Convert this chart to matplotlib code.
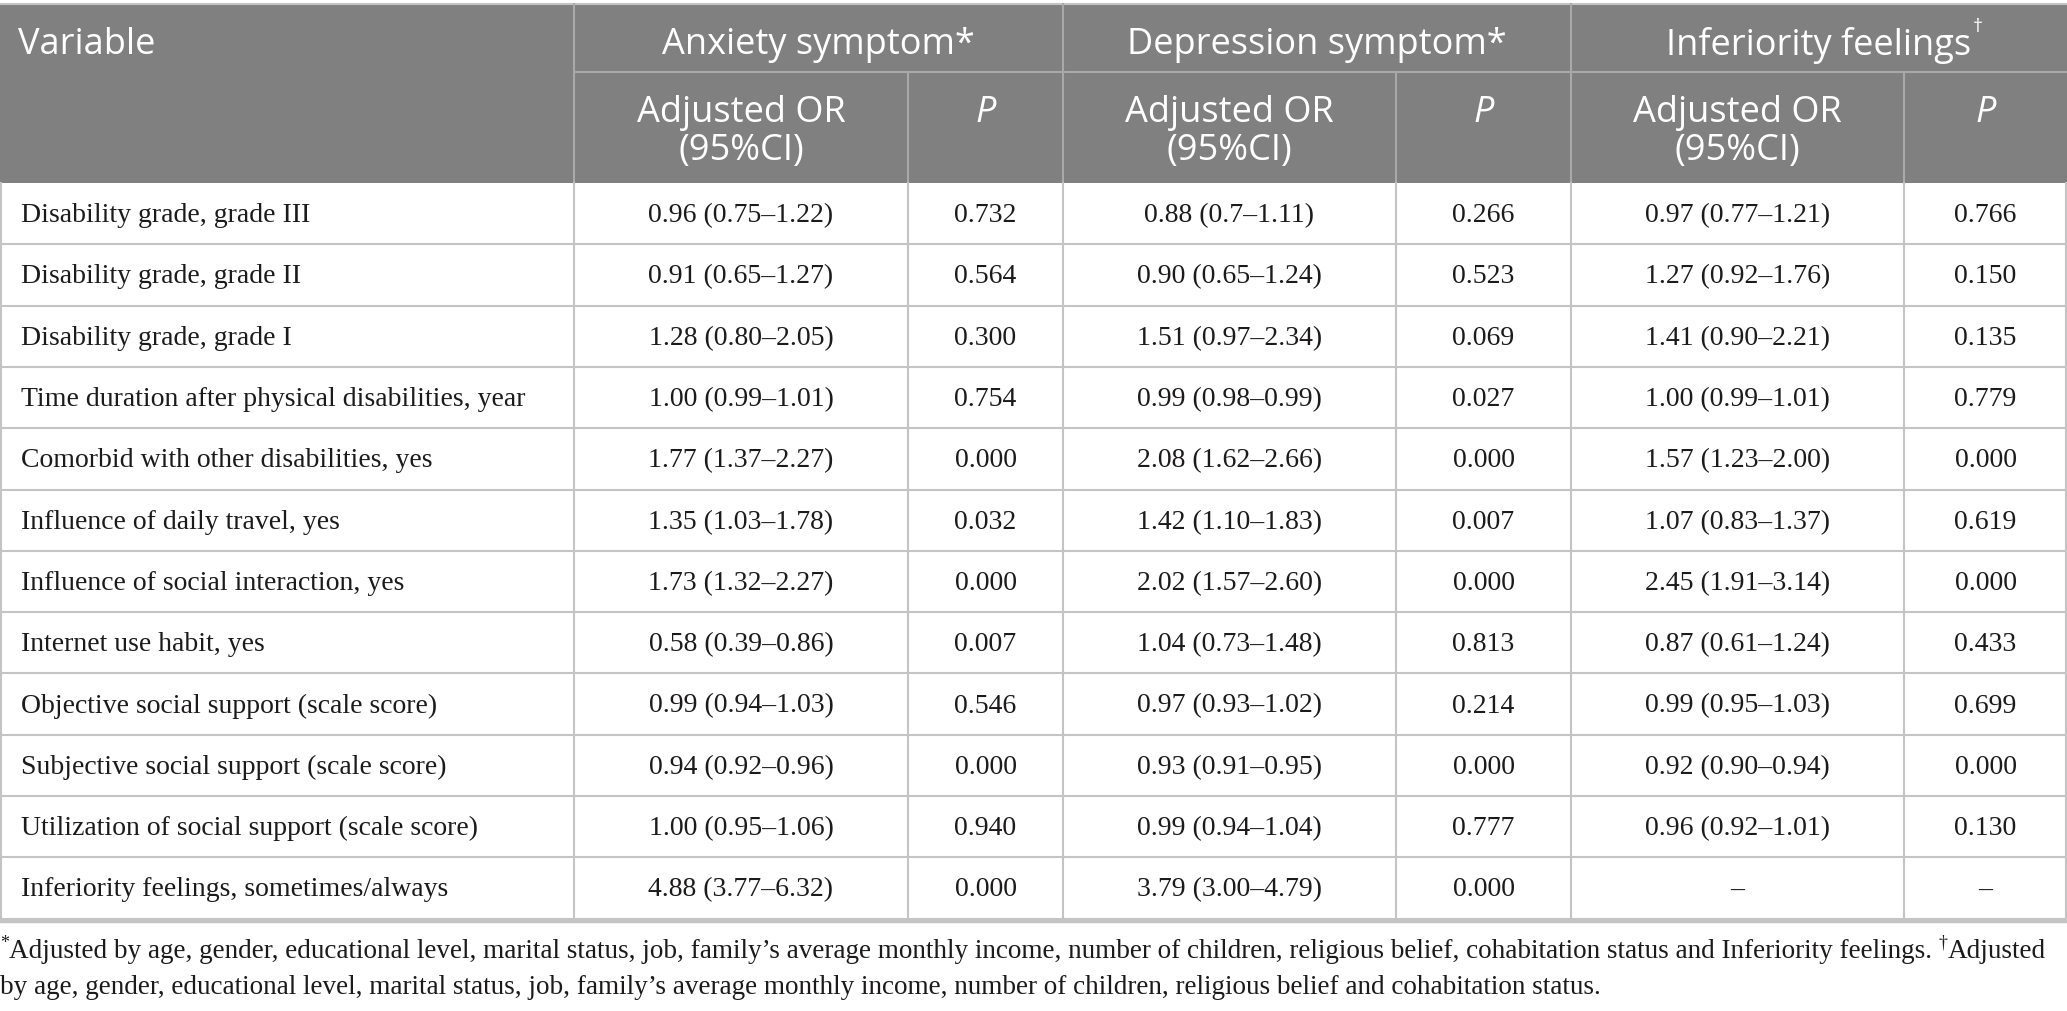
"""
Table: adjusted odds ratios for anxiety, depression and inferiority feelings.
"""

import matplotlib
matplotlib.use("Agg")
import matplotlib.pyplot as plt
from matplotlib.patches import Rectangle

# Table contents
variables = [
    "Disability grade, grade III",
    "Disability grade, grade II",
    "Disability grade, grade I",
    "Time duration after physical disabilities, year",
    "Comorbid with other disabilities, yes",
    "Influence of daily travel, yes",
    "Influence of social interaction, yes",
    "Internet use habit, yes",
    "Objective social support (scale score)",
    "Subjective social support (scale score)",
    "Utilization of social support (scale score)",
    "Inferiority feelings, sometimes/always",
]
anxiety_or = ["0.96 (0.75–1.22)", "0.91 (0.65–1.27)", "1.28 (0.80–2.05)", "1.00 (0.99–1.01)",
              "1.77 (1.37–2.27)", "1.35 (1.03–1.78)", "1.73 (1.32–2.27)", "0.58 (0.39–0.86)",
              "0.99 (0.94–1.03)", "0.94 (0.92–0.96)", "1.00 (0.95–1.06)", "4.88 (3.77–6.32)"]
anxiety_p = ["0.732", "0.564", "0.300", "0.754", "0.000", "0.032", "0.000", "0.007",
             "0.546", "0.000", "0.940", "0.000"]
depression_or = ["0.88 (0.7–1.11)", "0.90 (0.65–1.24)", "1.51 (0.97–2.34)", "0.99 (0.98–0.99)",
                 "2.08 (1.62–2.66)", "1.42 (1.10–1.83)", "2.02 (1.57–2.60)", "1.04 (0.73–1.48)",
                 "0.97 (0.93–1.02)", "0.93 (0.91–0.95)", "0.99 (0.94–1.04)", "3.79 (3.00–4.79)"]
depression_p = ["0.266", "0.523", "0.069", "0.027", "0.000", "0.007", "0.000", "0.813",
                "0.214", "0.000", "0.777", "0.000"]
inferiority_or = ["0.97 (0.77–1.21)", "1.27 (0.92–1.76)", "1.41 (0.90–2.21)", "1.00 (0.99–1.01)",
                  "1.57 (1.23–2.00)", "1.07 (0.83–1.37)", "2.45 (1.91–3.14)", "0.87 (0.61–1.24)",
                  "0.99 (0.95–1.03)", "0.92 (0.90–0.94)", "0.96 (0.92–1.01)", "–"]
inferiority_p = ["0.766", "0.150", "0.135", "0.779", "0.000", "0.619", "0.000", "0.433",
                 "0.699", "0.000", "0.130", "–"]

group_titles = ["Anxiety symptom*", "Depression symptom*", "Inferiority feelings"]
footnote_1 = ("Adjusted by age, gender, educational level, marital status, job, family\u2019s average monthly "
              "income, number of children, religious belief, cohabitation status and Inferiority feelings. ")
footnote_1b = "Adjusted"
footnote_2 = ("by age, gender, educational level, marital status, job, family\u2019s average monthly income, "
              "number of children, religious belief and cohabitation status.")

# Layout in pixels
W, H = 2067, 1011
col_x = [0, 574, 908, 1063, 1396, 1571, 1904, 2067]
head_top, head_mid, head_bot = 4, 72, 183
row_h = 61.3

header_color = "#7f807f"
head_line = "#a8a9a8"
grid_color = "#c4c4c4"
text_color = "#1c1a1a"
sans = "Open Sans"
serif = "Liberation Serif"
body_size = 20
foot_size = 19.5

fig = plt.figure(figsize=(W / 100, H / 100), dpi=100)
ax = fig.add_axes([0, 0, 1, 1])
ax.set_xlim(0, W)
ax.set_ylim(H, 0)
ax.axis("off")

# Header block
ax.add_patch(Rectangle((0, head_top), W, head_bot - head_top, facecolor=header_color, edgecolor="none"))
ax.plot([0, W], [head_top, head_top], color=grid_color, lw=1.5)
ax.plot([col_x[1], W], [head_mid, head_mid], color=head_line, lw=1.5)
for x in col_x[1:-1]:
    y0 = head_top if x in (col_x[1], col_x[3], col_x[5]) else head_mid
    ax.plot([x, x], [y0, head_bot], color=head_line, lw=1.5)

ax.text(18, 45, "Variable", color="white", fontsize=26, family=sans, va="center", ha="left")
for i, title in enumerate(group_titles):
    cx = (col_x[1 + 2 * i] + col_x[3 + 2 * i]) / 2
    t = ax.text(cx, 45, title, color="white", fontsize=26, family=sans, va="center", ha="center")
    if i == 2:
        fig.canvas.draw()
        bb = t.get_window_extent().transformed(ax.transData.inverted())
        ax.text(bb.x1 + 1, 27, "\u2020", color="white", fontsize=14, family=sans, va="center", ha="left")
    sub_or = (col_x[1 + 2 * i] + col_x[2 + 2 * i]) / 2
    sub_p = (col_x[2 + 2 * i] + col_x[3 + 2 * i]) / 2
    ax.text(sub_or, 113, "Adjusted OR", color="white", fontsize=26, family=sans, va="center", ha="center")
    ax.text(sub_or, 151, "(95%CI)", color="white", fontsize=26, family=sans, va="center", ha="center")
    ax.text(sub_p, 113, "P", color="white", fontsize=26, family=sans, style="italic", va="center", ha="center")

# Body rows
columns = [anxiety_or, anxiety_p, depression_or, depression_p, inferiority_or, inferiority_p]
n = len(variables)
for r in range(n):
    y0 = head_bot + r * row_h
    yc = y0 + row_h / 2 + 2
    ax.text(21, yc, variables[r], fontsize=body_size, family=serif, va="center", ha="left", color=text_color)
    for c, col in enumerate(columns):
        cx = (col_x[c + 1] + col_x[c + 2]) / 2
        ax.text(cx, yc, col[r], fontsize=body_size, family=serif, va="center", ha="center", color=text_color)
    ax.plot([0, W], [y0 + row_h, y0 + row_h], color=grid_color, lw=1.5)

body_bot = head_bot + n * row_h
for x in col_x:
    xx = min(max(x, 1), W - 1)
    ax.plot([xx, xx], [head_bot, body_bot], color=grid_color, lw=1.5)
ax.plot([0, W], [body_bot + 2, body_bot + 2], color=grid_color, lw=2.5)

# Footnotes
fy1, fy2 = 951, 988
ax.text(0, fy1 - 8, "*", fontsize=13, family=serif, va="center", ha="left", color=text_color)
f1 = ax.text(9, fy1, footnote_1, fontsize=foot_size, family=serif, va="center", ha="left", color=text_color)
fig.canvas.draw()
bb = f1.get_window_extent().transformed(ax.transData.inverted())
ax.text(bb.x1, fy1 - 8, "\u2020", fontsize=13, family=serif, va="center", ha="left", color=text_color)
ax.text(bb.x1 + 9, fy1, footnote_1b, fontsize=foot_size, family=serif, va="center", ha="left", color=text_color)
ax.text(0, fy2, footnote_2, fontsize=foot_size, family=serif, va="center", ha="left", color=text_color)

fig.savefig("out.png", dpi=100)
